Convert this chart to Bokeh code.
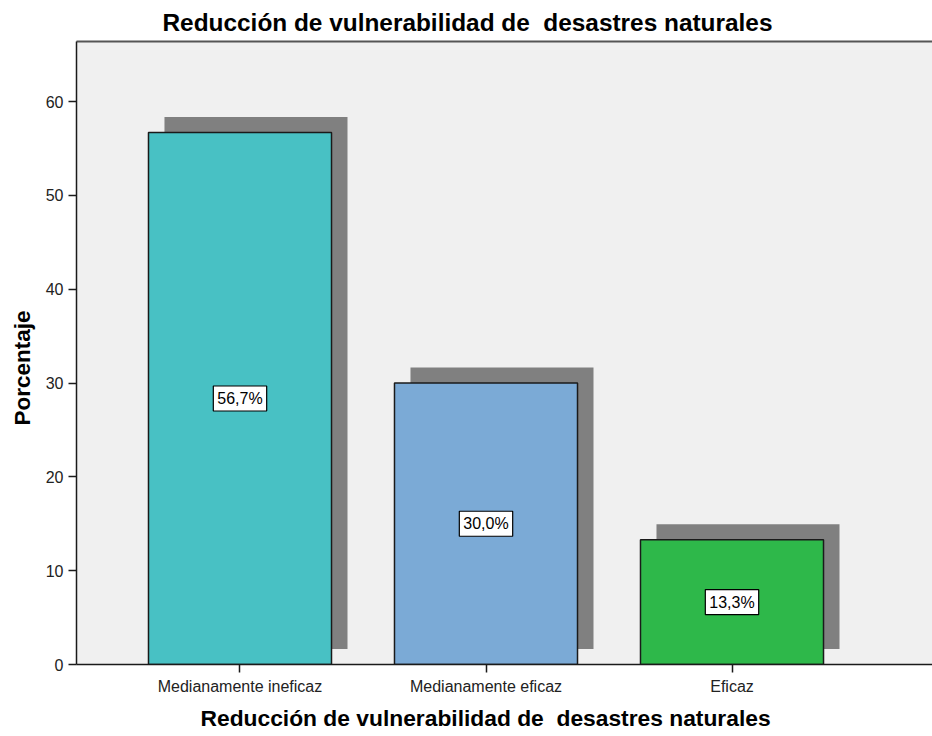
from bokeh.plotting import figure
from bokeh.models import Range1d, FixedTicker, LinearAxis, Label, Title
from bokeh.embed import file_html
from bokeh.resources import INLINE

# ---- data ----
categories = ["Medianamente ineficaz", "Medianamente eficaz", "Eficaz"]
percentages = [56.7, 30.0, 13.3]
value_labels = ["56,7%", "30,0%", "13,3%"]
bar_colors = ["#48C1C4", "#7BAAD6", "#2EB84A"]
y_ticks = [0, 10, 20, 30, 40, 50, 60]
title_text = "Reducción de vulnerabilidad de\u00a0 desastres naturales"
x_title = "Reducción de vulnerabilidad de\u00a0 desastres naturales"
y_title = "Porcentaje"

FONT = "Liberation Sans"
positions = list(range(1, len(categories) + 1))
bar_width = 0.744
shadow_dx = 0.065
shadow_dy = 1.65

p = figure(width=932, height=736, output_backend="svg", toolbar_location=None,
           x_range=Range1d(0.3354, 3.815), y_range=Range1d(0, 66.4),
           min_border_left=76, min_border_right=0, min_border_top=40,
           min_border_bottom=72)

p.background_fill_color = "#F0F0F0"
p.border_fill_color = "white"
p.outline_line_color = None
p.grid.visible = False

# shadows
p.quad(left=[x - bar_width / 2 + shadow_dx for x in positions],
       right=[x + bar_width / 2 + shadow_dx for x in positions],
       bottom=[shadow_dy] * len(positions),
       top=[v + shadow_dy for v in percentages],
       fill_color="#808080", line_color=None)

# bars
p.vbar(x=positions, width=bar_width, top=percentages, bottom=0,
       fill_color=bar_colors, line_color="#1A1A1A", line_width=1.5)

# value labels
for x, v, t in zip(positions, percentages, value_labels):
    p.add_layout(Label(x=x, y=v / 2, text=t, text_align="center",
                       text_baseline="middle", text_font=FONT,
                       text_font_size="16px", text_color="black",
                       background_fill_color="white",
                       border_line_color="black", border_line_width=1.2,
                       padding=4))

# axes
xa = p.xaxis[0]
xa.ticker = FixedTicker(ticks=positions)
xa.major_label_overrides = {x: c for x, c in zip(positions, categories)}
ya = p.yaxis[0]
ya.ticker = FixedTicker(ticks=y_ticks)
for ax in (xa, ya):
    ax.axis_line_color = "#1A1A1A"
    ax.axis_line_width = 1.5
    ax.major_tick_line_color = "#1A1A1A"
    ax.major_tick_line_width = 1.5
    ax.major_tick_in = 0
    ax.major_tick_out = 8
    ax.minor_tick_line_color = None
    ax.major_label_text_font = FONT
    ax.major_label_text_font_size = "16px"
    ax.major_label_text_color = "#222222"
    ax.major_label_standoff = 5

# top border line
top_ax = LinearAxis(ticker=FixedTicker(ticks=[]), axis_line_color="#555555",
                    axis_line_width=2, major_tick_line_color=None,
                    minor_tick_line_color=None, major_label_text_font_size="0px")
p.add_layout(top_ax, "above")

# main title
p.title.text = title_text
p.title.align = "left"
p.title.offset = 86
p.title.text_font = FONT
p.title.text_font_size = "24.4px"
p.title.text_font_style = "bold"
p.title.text_color = "black"
p.title.standoff = 12

# axis titles
p.add_layout(Title(text=x_title, align="left", offset=124, text_font=FONT,
                   text_font_size="22.8px", text_font_style="bold",
                   text_color="black", standoff=11), "below")
p.add_layout(Title(text=y_title, align="left", offset=239, text_font=FONT,
                   text_font_size="22.5px", text_font_style="bold",
                   text_color="black", standoff=15), "left")

open("out.html", "w").write(file_html(p, INLINE))
